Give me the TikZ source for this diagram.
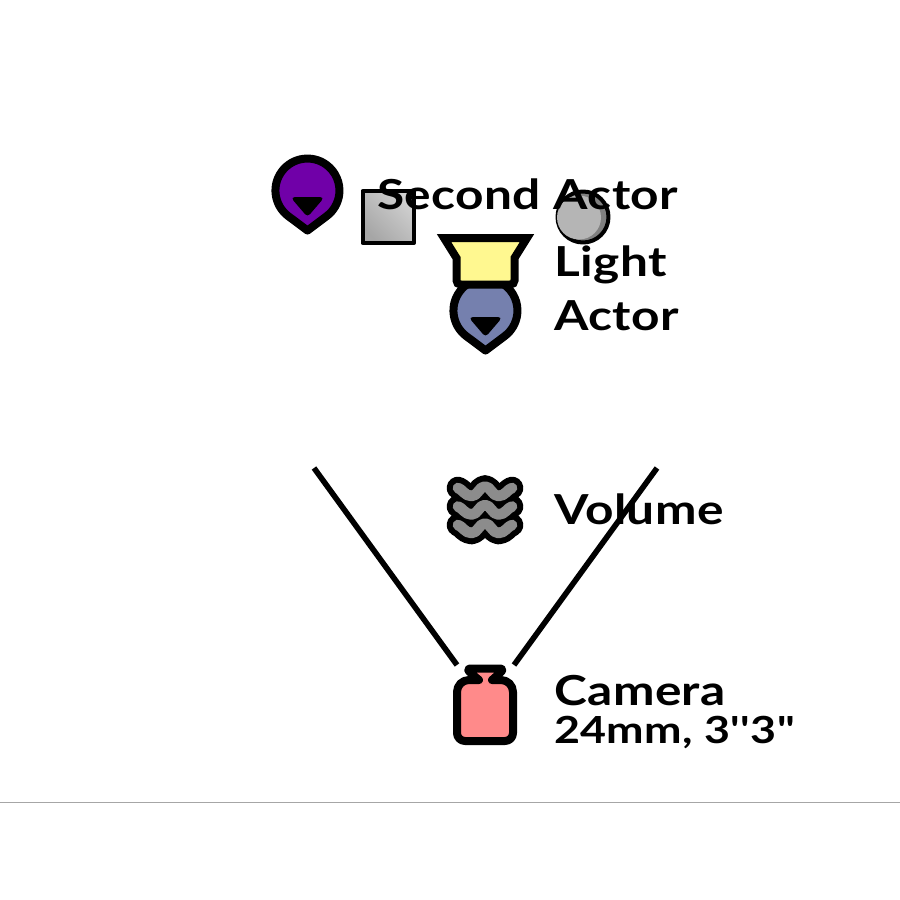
\documentclass[tikz,border=0pt]{standalone}
\usepackage{fontspec}
\newfontfamily\labelfont[FakeStretch=1.2,LetterSpace=1]{Lato}
\tikzset{
  iconline/.style={draw=black,line width=6pt,line join=round},
  smallprop/.style={draw=black,line width=3pt,line join=round},
  sightline/.style={draw=black,line width=4.2pt},
  label/.style={anchor=base west,inner sep=0pt,font=\labelfont\fontsize{31}{31}\selectfont\bfseries},
}
\newcommand{\actorpin}[3]{
  \begin{scope}[shift={(#1,#2)}]
    \draw[iconline,fill=#3] (-19.3,25.6) arc[start angle=127,end angle=413,radius=32] -- (0,40) -- cycle;
    \fill[black,draw=black,line width=1.5pt,rounded corners=2pt] (-15,7.5) -- (15,7.5) -- (0,25) -- cycle;
  \end{scope}
}
\newcommand{\wavepath}{(458,488) .. controls (462,489) and (465,496) .. (471.5,496) .. controls (478,496) and (479,486.5) .. (485,486.5)
      .. controls (491,486.5) and (492,496) .. (498.5,496) .. controls (505,496) and (508,489) .. (512,488)}
\definecolor{actorpurple}{HTML}{7000A8}
\definecolor{actorblue}{HTML}{7580AE}
\definecolor{lightyellow}{HTML}{FFF890}
\definecolor{camerared}{HTML}{FF8A8A}
\definecolor{wavegray}{HTML}{8C8C8C}
\begin{document}
\begin{tikzpicture}[x=0.75pt,y=0.75pt,yscale=-1,xscale=1]
  \useasboundingbox (0,0) rectangle (900,900);
  \draw[gray!70,line width=0.6pt] (0,802.5) -- (900,802.5);
  % props
  \draw[smallprop,left color=black!18,right color=black!35,shading angle=-45] (362.5,191) rectangle (414,243);
  \draw[smallprop,fill=black!50] (583,217) circle (25.5);
  \fill[black!29] (579,217.5) circle (22);
  % actors
  \actorpin{307.5}{190.5}{actorpurple}
  \actorpin{485.5}{310.5}{actorblue}
  % light
  \draw[iconline,fill=lightyellow,line join=miter] (444,238) -- (527,238) -- (514.5,258) [rounded corners=3pt] -- (514.5,284.5) -- (456.5,284.5) [sharp corners] -- (456.5,258) -- cycle;
  % volume
  \foreach \row in {0,18.5,37}{
    \draw[black,line width=17pt,line cap=round,line join=round,yshift=\row*0.75pt] \wavepath;
  }
  \foreach \row in {0,18.5,37}{
    \draw[wavegray,line width=8pt,line cap=round,line join=round,yshift=\row*0.75pt] \wavepath;
  }
  % camera
  \draw[iconline,fill=camerared] (485,741) [rounded corners=6pt] -- (457,741) [rounded corners=9pt] -- (457,680) [sharp corners] -- (479,680) [rounded corners=4pt] -- (465.5,668.5) -- (505,668.5) [sharp corners] -- (492,680) [rounded corners=9pt] -- (513,680) [rounded corners=6pt] -- (513,741) -- cycle;
  % sight lines
  \coordinate (leftfar) at (314,468);
  \coordinate (leftnear) at (457,665);
  \coordinate (rightfar) at (657,468);
  \coordinate (rightnear) at (514,665);
  \draw[sightline] (leftfar) -- (leftnear);
  \draw[sightline] (rightfar) -- (rightnear);
  % labels
  \node[label] (secondlabel) at (377,209) {Second Actor};
  \node[label] (lightlabel) at (554,276) {Light};
  \node[label] (actorlabel) at (554,330) {Actor};
  \node[label] (volumelabel) at (554,524) {Volume};
  \node[label] (cameralabel) at (554,705) {Camera};
  \node[label,font=\labelfont\fontsize{28}{28}\selectfont\bfseries] (lenslabel) at (554,743) {24mm, 3''3"};
\end{tikzpicture}
\end{document}
